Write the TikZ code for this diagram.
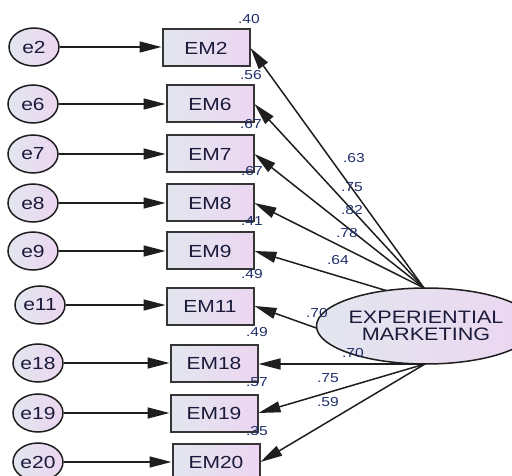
\documentclass[tikz,border=0pt]{standalone}
\usepackage{fontspec}
\setmainfont{Liberation Sans}[FakeStretch=1.2]
\usetikzlibrary{arrows.meta,shapes.geometric}
\definecolor{txtc}{HTML}{1A1A3A}
\definecolor{numc}{HTML}{1F2F6A}
\definecolor{fillL}{HTML}{E2E6EF}
\definecolor{fillR}{HTML}{ECD6F0}
\definecolor{linec}{HTML}{1E1E1E}
\begin{document}
\begin{tikzpicture}[x=1pt,y=-1pt,
  obs/.style={draw=linec!90, line width=2pt, left color=fillL, right color=fillR,
    minimum width=87pt, minimum height=37pt, inner sep=0pt,
    font=\fontsize{17.5}{17.5}\selectfont, text=txtc},
  err/.style={ellipse, draw=linec, line width=1.5pt, left color=fillL, right color=fillR,
    minimum width=50pt, minimum height=38pt, inner sep=0pt,
    font=\fontsize{17.5}{17.5}\selectfont, text=txtc},
  lat/.style={ellipse, draw=linec, line width=1.5pt, left color=fillL, right color=fillR,
    minimum width=168pt, minimum height=76pt, inner sep=0pt, align=center,
    font=\fontsize{18}{17.5}\selectfont, text=txtc},
  arr/.style={-{Triangle[length=22pt,width=11pt]}, line width=1.5pt, draw=linec},
  numl/.style={font=\fontsize{13}{13}\selectfont, text=numc, inner sep=0pt}]
\useasboundingbox (0,0) rectangle (512,476);

% observed variables
\node[obs] (EM2)  at (206,48)  {EM2};
\node[obs] (EM6)  at (210,104) {EM6};
\node[obs] (EM7)  at (210,154) {EM7};
\node[obs] (EM8)  at (210,203) {EM8};
\node[obs] (EM9)  at (210,251) {EM9};
\node[obs] (EM11) at (210,306) {EM11};
\node[obs] (EM18) at (214,363) {EM18};
\node[obs] (EM19) at (214,413) {EM19};
\node[obs] (EM20) at (216,462) {EM20};

% error terms
\node[err] (e2)  at (34,47)  {e2};
\node[err] (e6)  at (33,104) {e6};
\node[err] (e7)  at (33,154) {e7};
\node[err] (e8)  at (33,203) {e8};
\node[err] (e9)  at (33,251) {e9};
\node[err] (e11) at (40,305) {e11};
\node[err] (e18) at (38,363) {e18};
\node[err] (e19) at (38,413) {e19};
\node[err] (e20) at (38,462) {e20};

\foreach \e/\m in {e2/EM2,e6/EM6,e7/EM7,e8/EM8,e9/EM9,e11/EM11,e18/EM18,e19/EM19,e20/EM20}
  \draw[arr] (\e.east) -- (\m.west |- \e.east);

% loading start points on the latent ellipse
\coordinate (sa) at (424,288);
\coordinate (sb) at (391,292);
\coordinate (sc) at (350,340);
\coordinate (sd) at (425,364);

\draw[arr] (sa) -- (EM2.east);
\draw[arr] (sa) -- (EM6.east);
\draw[arr] (sa) -- (EM7.east);
\draw[arr] (sa) -- (EM8.east);
\draw[arr] (sb) -- (EM9.east);
\draw[arr] (sc) -- (EM11.east);
\draw[arr] (sd) -- (EM18.east |- sd);
\draw[arr] (sd) -- (EM19.east);
\draw[arr] (sd) -- (EM20.east);

% latent variable
\node[lat] (EXP) at (426,326) {EXPERIENTIAL\\MARKETING};

% squared multiple correlations
\node[numl] (r2)  at (249,19)  {.40};
\node[numl] (r6)  at (251,75)  {.56};
\node[numl] (r7)  at (251,124) {.67};
\node[numl] (r8)  at (252,171) {.67};
\node[numl] (r9)  at (252,221) {.41};
\node[numl] (r11) at (252,274) {.49};
\node[numl] (r18) at (257,332) {.49};
\node[numl] (r19) at (257,382) {.57};
\node[numl] (r20) at (257,431) {.35};

% loadings
\node[numl] (l2)  at (354,158) {.63};
\node[numl] (l6)  at (352,187) {.75};
\node[numl] (l7)  at (352,210) {.82};
\node[numl] (l8)  at (347,233) {.78};
\node[numl] (l9)  at (338,260) {.64};
\node[numl] (l11) at (317,313) {.70};
\node[numl] (l18) at (353,353) {.70};
\node[numl] (l19) at (328,378) {.75};
\node[numl] (l20) at (328,402) {.59};
\end{tikzpicture}
\end{document}
